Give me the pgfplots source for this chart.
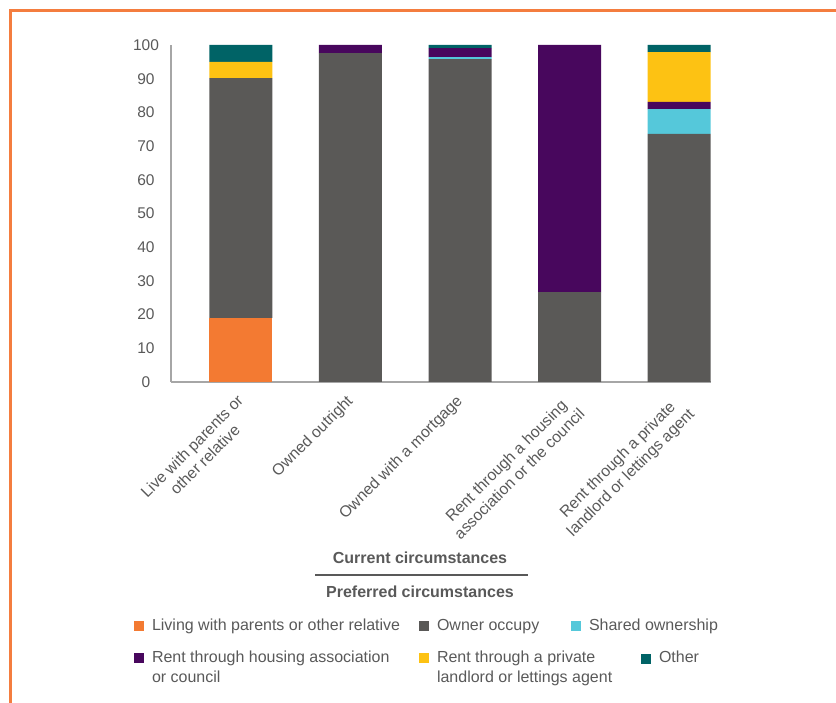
\documentclass[border=0pt]{standalone}
\usepackage{fontspec}
\setmainfont{Liberation Sans}
\usepackage{pgfplots}
\pgfplotsset{compat=1.18}
\definecolor{cOrange}{HTML}{F37A32}
\definecolor{cGrey}{HTML}{5A5957}
\definecolor{cCyan}{HTML}{55C8DA}
\definecolor{cPurple}{HTML}{48075D}
\definecolor{cYellow}{HTML}{FDC213}
\definecolor{cTeal}{HTML}{006366}
\definecolor{cFrame}{HTML}{F47D3F}
\definecolor{cAxis}{HTML}{A6A6A6}
\definecolor{cText}{HTML}{595959}
\newcommand{\legtxt}[2]{\makebox[#1][l]{\raisebox{0pt}[11bp][4bp]{\begin{tabular}[t]{@{}l@{}}#2\end{tabular}}}}
\begin{document}
\begin{tikzpicture}
\path[use as bounding box] (0bp,0bp) rectangle (836bp,703bp);
\draw[cFrame, line width=3bp] (10bp,0bp) -- (10bp,692bp) -- (836bp,692bp);
\begin{axis}[
  at={(171bp,321bp)}, anchor=south west,
  scale only axis, width=540bp, height=337bp,
  ybar stacked, bar width=63bp,
  xmin=-0.639, xmax=4.292, ymin=0, ymax=100,
  axis x line*=bottom, axis y line*=left,
  axis line style={draw=cAxis, line width=1.3bp},
  major tick length=0pt, tick style={draw=none},
  ytick={0,10,...,100},
  xtick={0,1,2,3,4},
  xticklabels={{Live with parents or\\other relative},{Owned outright},{Owned with a mortgage},{Rent through a housing\\association or the council},{Rent through a private\\landlord or lettings agent}},
  /pgf/number format/assume math mode=true,
  yticklabel style={anchor=center, xshift=-25bp, font=\fontsize{15.5bp}{18bp}\selectfont, text=cText},
  xticklabel style={xshift=-5bp, yshift=-7bp, align=center, rotate=45, anchor=north east, font=\fontsize{15.75bp}{18.5bp}\selectfont, text=cText},
  legend columns=3,
  legend cell align=left,
  legend image code/.code={\fill[#1] (0bp,-5bp) rectangle (10bp,5bp);},
  legend style={draw=none, fill=none, at={(-0.0685,-0.7047)}, anchor=north west,
    inner sep=0pt, outer sep=0pt, row sep=20bp,
    nodes={inner sep=0pt, outer sep=0pt},
    font=\fontsize{16bp}{20bp}\selectfont, text=cText,
    /tikz/every odd column/.style={column sep=8bp},
    /tikz/every even column/.style={column sep=0bp}},
]
\addplot[fill=cOrange, draw=none] coordinates {(0,19.0) (1,0) (2,0) (3,0) (4,0)};
\addlegendentry{\legtxt{267bp}{Living with parents or other relative}}
\addplot[fill=cGrey, draw=none] coordinates {(0,71.2) (1,97.6) (2,95.8) (3,26.7) (4,73.6)};
\addlegendentry{\legtxt{134bp}{Owner occupy}}
\addplot[fill=cCyan, draw=none] coordinates {(0,0) (1,0) (2,0.6) (3,0) (4,7.4)};
\addlegendentry{\legtxt{130bp}{Shared ownership}}
\addplot[fill=cPurple, draw=none] coordinates {(0,0) (1,2.4) (2,2.7) (3,73.3) (4,2.1)};
\addlegendentry{\legtxt{267bp}{Rent through housing association\\or council}}
\addplot[fill=cYellow, draw=none] coordinates {(0,4.8) (1,0) (2,0) (3,0) (4,14.8)};
\addlegendentry{\legtxt{134bp}{Rent through a private\\landlord or lettings agent}}
\addplot[fill=cTeal, draw=none, legend image code/.code={\path (0bp,0bp);}] coordinates {(0,5.0) (1,0) (2,0.9) (3,0) (4,2.1)};
\addlegendentry{\legtxt{130bp}{\hspace*{52bp}\textcolor{cTeal}{\rule[-1.5bp]{10bp}{10bp}}\hspace*{8bp}Other}}
\end{axis}
\node[font=\bfseries\fontsize{16bp}{19bp}\selectfont, text=cText] at (420bp,145bp) {Current circumstances};
\draw[cText, line width=1.2bp] (315bp,128bp) -- (528bp,128bp);
\node[font=\bfseries\fontsize{16bp}{19bp}\selectfont, text=cText] at (420bp,111bp) {Preferred circumstances};
\end{tikzpicture}
\end{document}
